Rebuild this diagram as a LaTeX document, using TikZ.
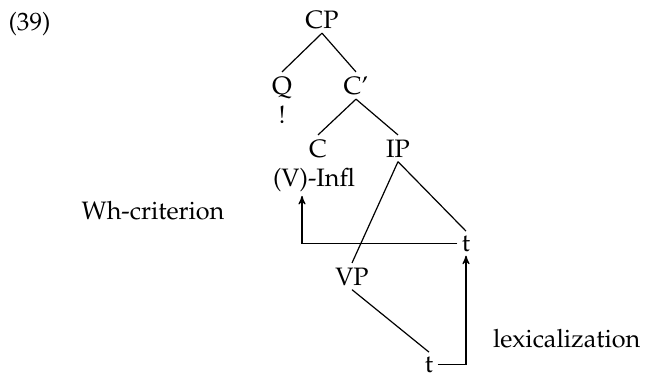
\documentclass[tikz,border=0pt]{standalone}
\usepackage[T1]{fontenc}
\usepackage{mathpazo}
\usetikzlibrary{arrows}
\tikzset{
  >=stealth',
  word/.style={anchor=base, inner sep=2pt, font=\fontsize{12.6}{15}\selectfont},
  gloss/.style={word, anchor=base west},
}

\begin{document}
\begin{tikzpicture}[x=0.5pt, y=-0.5pt, line width=0.6pt]
    \useasboundingbox (0,0) rectangle (647,380);
    \node[gloss] (ex)   at (4,31)    {(39)};
    \node[word]  (cp)   at (322,28)  {CP};
    \node[word]  (q)    at (282,94)  {Q};
    \node[word]  (bang) at (282,123) {!};
    \node[word]  (cbar) at (356,94)  {C'};
    \node[word]  (c)    at (318,157) {C};
    \node[word]  (ip)   at (398,157) {IP};
    \node[word]  (infl) at (314,186) {(V)-Infl};
    \node[word]  (t1)   at (466,251) {t};
    \node[word]  (vp)   at (352,285) {VP};
    \node[word]  (t2)   at (429,372) {t};
    \node[gloss] (wh)   at (77,219)  {Wh-criterion};
    \node[word, anchor=base east] (lex) at (645,347) {lexicalization};
    % tree
    \draw (cp.south)   -- (q.north);
    \draw (cp.south)   -- (cbar.north);
    \draw (cbar.south) -- (c.north);
    \draw (cbar.south) -- (ip.north);
    \draw (ip.south)   -- (vp.north);
    \draw (ip.south)   -- (t1.north);
    \draw (vp.south)   -- (t2.north);
    % movement
    \draw[->] (t2.east) -| (t1.south);
    \draw[->] (t1.west) -| ([xshift=-6pt]infl.south);
\end{tikzpicture}
\end{document}
